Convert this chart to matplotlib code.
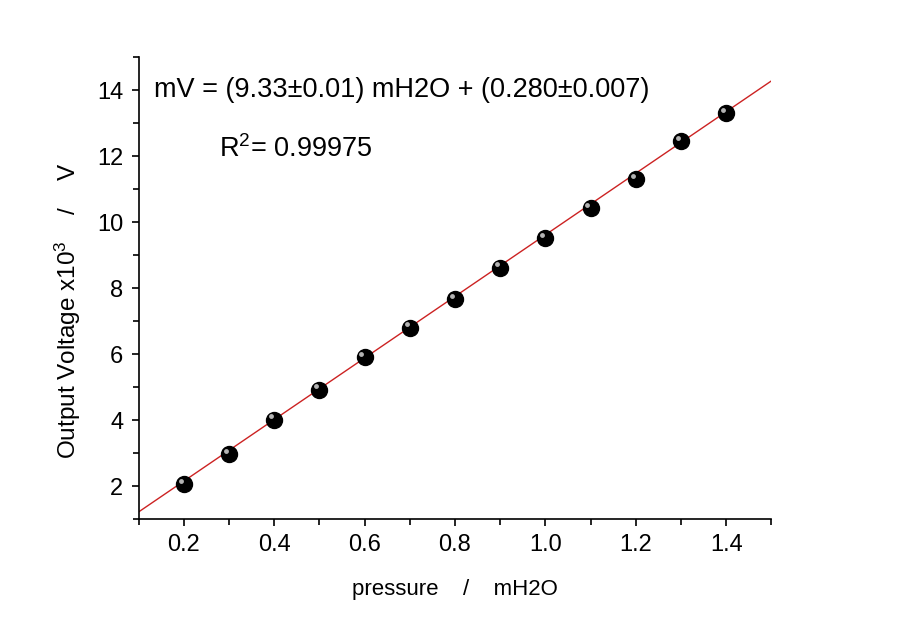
import matplotlib
matplotlib.use('Agg')
import matplotlib.pyplot as plt
import matplotlib.transforms as mtransforms
from matplotlib.ticker import MultipleLocator
import numpy as np

# data
pressure = [0.2, 0.3, 0.4, 0.5, 0.6, 0.7, 0.8, 0.9, 1.0, 1.1, 1.2, 1.3, 1.4]
voltage = [2.05, 2.96, 4.01, 4.92, 5.90, 6.80, 7.66, 8.62, 9.52, 10.42, 11.29, 12.44, 13.31]

# linear fit as written on the chart
slope = 9.33
intercept = 0.280
eq_text = 'mV = (9.33\u00b10.01) mH2O + (0.280\u00b10.007)'
r2_text = 'R$^2$= 0.99975'

plt.rcParams['font.family'] = ['Liberation Sans', 'DejaVu Sans']
plt.rcParams['mathtext.fontset'] = 'custom'
plt.rcParams['mathtext.rm'] = 'Liberation Sans'
plt.rcParams['mathtext.it'] = 'Liberation Sans'

fig = plt.figure(figsize=(9.15, 6.37), dpi=100)
ax = fig.add_axes([0.1514, 0.1852, 0.6916, 0.7253])

# fit line across the whole x range
xfit = np.array([0.1, 1.5])
ax.plot(xfit, slope * xfit + intercept, color='#cc2222', lw=1.0, zorder=2)

# black balls with a small highlight
ax.plot(pressure, voltage, 'o', color='black', ms=11.5, zorder=3)
hl = mtransforms.offset_copy(ax.transData, fig=fig, x=-2.3, y=2.3, units='points')
ax.plot(pressure, voltage, 'o', color='#c8c8c8', ms=3.5, mew=0, alpha=0.9,
        transform=hl, zorder=4)

ax.set_xlim(0.1, 1.5)
ax.set_ylim(1, 15)
ax.xaxis.set_major_locator(MultipleLocator(0.2))
ax.xaxis.set_minor_locator(MultipleLocator(0.1))
ax.yaxis.set_major_locator(MultipleLocator(2))
ax.yaxis.set_minor_locator(MultipleLocator(1))
ax.xaxis.set_major_formatter(plt.FormatStrFormatter('%.1f'))

for s in ['top', 'right']:
    ax.spines[s].set_visible(False)
for s in ['left', 'bottom']:
    ax.spines[s].set_linewidth(1.2)
ax.tick_params(which='major', direction='out', length=5, width=1.2, labelsize=17, pad=6)
ax.tick_params(which='minor', direction='out', length=4, width=1.2)

ax.set_xlabel('pressure    /    mH2O', fontsize=16, labelpad=16)
ax.set_ylabel('Output Voltage x10$^3$    /    V', fontsize=17.5)
ax.yaxis.set_label_coords(-0.088, 0.45)

ax.text(0.135, 14.0, eq_text, fontsize=19.5, va='center', ha='left')
ax.text(0.278, 12.2, r2_text, fontsize=19.5, va='center', ha='left')

fig.savefig('out.png', dpi=100)
